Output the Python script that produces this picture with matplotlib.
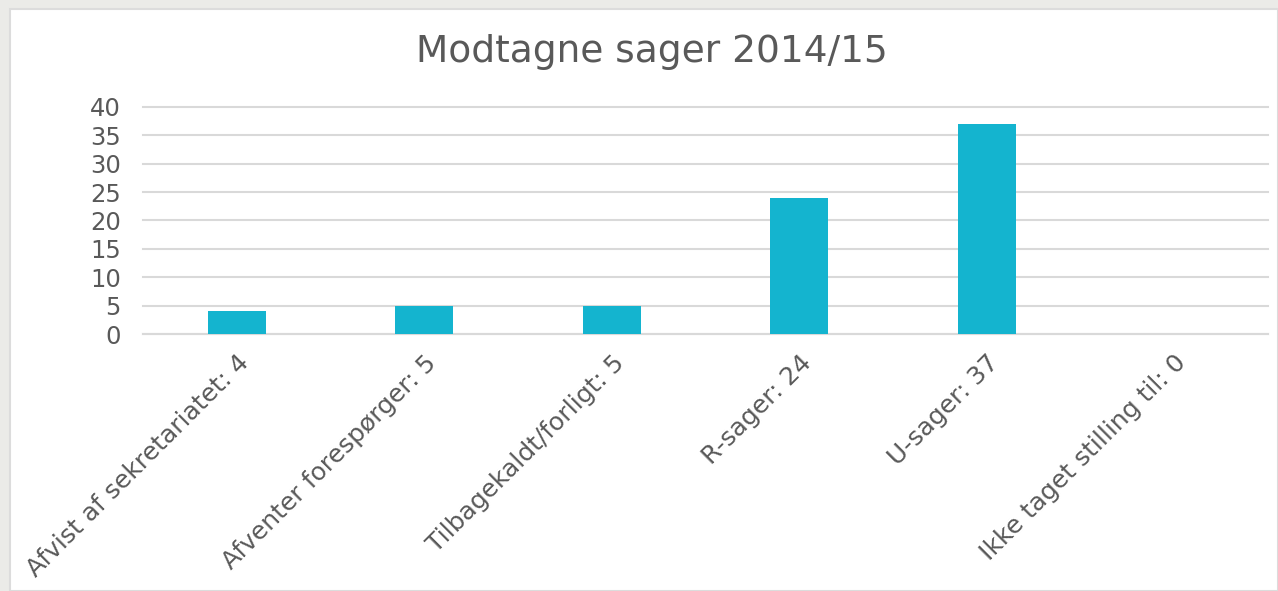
import matplotlib
matplotlib.use("Agg")
import matplotlib.pyplot as plt
from matplotlib.patches import Rectangle

categories = ["Afvist af sekretariatet: 4", "Afventer forespørger: 5", "Tilbagekaldt/forligt: 5",
              "R-sager: 24", "U-sager: 37", "Ikke taget stilling til: 0"]
values = [4, 5, 5, 24, 37, 0]
yticks = [0, 5, 10, 15, 20, 25, 30, 35, 40]
title = "Modtagne sager 2014/15"

W, H = 1278, 591
fig = plt.figure(figsize=(W / 100, H / 100), dpi=100)
fig.patch.set_facecolor("#ebebe8")
fig.patches.append(Rectangle((10 / W, 0), 1 - 10 / W, 1 - 9 / H, transform=fig.transFigure,
                             facecolor="white", edgecolor="#dcdcdc", linewidth=1.5, zorder=-10))

ax = fig.add_axes([143 / W, (H - 334) / H, (1268 - 143) / W, (334 - 107) / H])
ax.set_zorder(5)
ax.set_facecolor("none")
x = range(len(categories))
ax.bar(x, values, width=0.31, color="#14b4cf", zorder=3)
ax.set_xlim(-0.5, len(categories) - 0.5)
ax.set_ylim(0, 40)
ax.set_yticks(yticks)
ax.set_yticklabels([str(t) for t in yticks])
ax.grid(axis="y", color="#d9d9d9", linewidth=1.5, zorder=0)
for gl in ax.get_ygridlines():
    gl.set_clip_on(False)
ax.set_axisbelow(True)
for s in ["top", "right", "left"]:
    ax.spines[s].set_visible(False)
ax.spines["bottom"].set_color("#d9d9d9")
ax.spines["bottom"].set_linewidth(1.5)
ax.tick_params(axis="both", length=0, colors="#595959")
ax.tick_params(axis="y", pad=16, labelsize=17.5)
ax.set_xticks(list(x))
ax.set_xticklabels(categories, rotation=45, ha="right", va="top", rotation_mode="anchor")
ax.tick_params(axis="x", pad=12, labelsize=18)

fig.text(652 / W, 1 - 52 / H, title, ha="center", va="center", fontsize=27, color="#595959", zorder=6)

fig.savefig("out.png", dpi=100, facecolor=fig.get_facecolor())
